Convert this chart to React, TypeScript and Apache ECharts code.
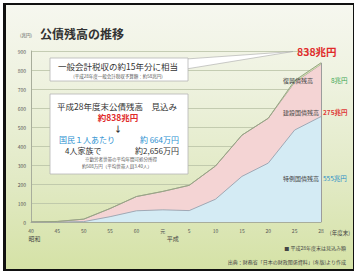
import React, { useEffect, useRef } from "react";
import * as echarts from "echarts";

const xLabels = ["40", "45", "50", "55", "60", "元", "5", "10", "15", "20", "25", "28"];
const tokurei = [0, 0, 2, 28, 59, 64, 60, 120, 240, 310, 484, 555];
const kensetsu = [0.2, 2.8, 13, 43, 75, 97, 133, 175, 217, 236, 251, 275];
const fukko = [0, 0, 0, 0, 0, 0, 0, 0, 0, 0, 9, 8];
const seriesNames = ["特例国債残高", "建設国債残高", "復興債残高"];
const endValues = ["555兆円", "275兆円", "8兆円"];
const totalLabel = "838兆円";

const FONT = '"Noto Sans CJK JP", "Noto Sans", sans-serif';

function txt(text: string, x: number, y: number, size: number, fill: string, align = "left", weight = "normal") {
  return {
    type: "text",
    z: 20,
    style: {
      text,
      x,
      y,
      fill,
      textAlign: align,
      textVerticalAlign: "middle",
      font: `${weight} ${size}px ${FONT}`,
    },
  };
}

export default function App() {
  const ref = useRef<HTMLDivElement>(null);
  useEffect(() => {
    if (!ref.current) return;
    const chart = echarts.init(ref.current, null, { renderer: "svg", width: 354, height: 271 });
    const last = xLabels.length - 1;
    const total = tokurei[last] + kensetsu[last] + fukko[last];
    chart.setOption({
      animation: false,
      textStyle: { fontFamily: FONT },
      grid: { left: 31, right: 33, top: 51, bottom: 49 },
      xAxis: {
        type: "category",
        data: xLabels,
        boundaryGap: false,
        axisLine: { show: true, lineStyle: { color: "#a8ad9c", width: 1 } },
        axisTick: { show: false },
        splitLine: { show: false },
        axisLabel: {
          fontSize: 5,
          color: "#555",
          margin: 4,
          lineHeight: 8,
          interval: 0,
          formatter: (v: string, i: number) => {
            if (i === 0) return v + "\n{s|昭和}";
            if (i === 5) return v + "\n{h|平成}";
            return v;
          },
          rich: {
            s: { fontSize: 6, color: "#444", padding: [0, 0, 0, 7], lineHeight: 8 },
            h: { fontSize: 6, color: "#444", padding: [0, 0, 0, 20], lineHeight: 8 },
          },
        },
      },
      yAxis: {
        type: "value",
        min: 0,
        max: 900,
        interval: 100,
        axisLine: { show: true, lineStyle: { color: "#a8ad9c", width: 1 } },
        axisTick: { show: false },
        splitLine: { show: true, lineStyle: { color: "#b9c2a6", width: 0.8 } },
        axisLabel: { fontSize: 5, color: "#555", margin: 5 },
      },
      series: [
        {
          name: seriesNames[0],
          type: "line",
          stack: "t",
          symbol: "none",
          data: tokurei,
          lineStyle: { color: "#9fa8b6", width: 1 },
          areaStyle: { color: "#d4ebf4", opacity: 1 },
          z: 3,
        },
        {
          name: seriesNames[1],
          type: "line",
          stack: "t",
          symbol: "none",
          data: kensetsu,
          lineStyle: { color: "#aaa49c", width: 1 },
          areaStyle: { color: "#f4d4d4", opacity: 1 },
          z: 3,
        },
        {
          name: seriesNames[2],
          type: "line",
          stack: "t",
          symbol: "none",
          data: fukko,
          lineStyle: { color: "#97a584", width: 1 },
          areaStyle: { color: "#cfe2ad", opacity: 1 },
          z: 4,
          markLine: {
            silent: true,
            symbol: "none",
            label: { show: false },
            lineStyle: { color: "#9c9c9c", width: 1, type: "solid" },
            data: [[{ coord: [last, 0] }, { coord: [last, total] }]],
          },
        },
      ],
      graphic: [
        txt("(兆円)", 20, 35, 4.5, "#555"),
        txt("公債残高の推移", 40, 33, 12, "#333", "left", "bold"),
        {
          type: "polygon",
          z: 18,
          shape: { points: [[186, 59], [293, 51.5], [186, 69]] },
          style: { fill: "#ffffff", stroke: "#a8a8a8", lineWidth: 0.6 },
        },
        {
          type: "rect",
          z: 19,
          shape: { x: 50, y: 58, width: 138, height: 23 },
          style: { fill: "#ffffff", stroke: "#b5b5b5", lineWidth: 0.8 },
        },
        txt("一般会計税収の約15年分に相当", 118, 66, 8.5, "#333", "center"),
        txt("(平成28年度一般会計税収予算額：約58兆円)", 118, 75.5, 4.5, "#555", "center"),
        {
          type: "rect",
          z: 19,
          shape: { x: 50, y: 94, width: 138, height: 80 },
          style: { fill: "#ffffff", stroke: "#b5b5b5", lineWidth: 0.8 },
        },
        txt("平成28年度末公債残高　見込み", 117, 106, 8.5, "#333", "center"),
        txt("約838兆円", 118, 117, 8.5, "#e02a2a", "center", "bold"),
        txt("↓", 118, 128, 8, "#333", "center", "bold"),
        txt("国民１人あたり", 59, 139.5, 8, "#2a8fd0"),
        txt("約 664万円", 179, 139.5, 8, "#2a8fd0", "right"),
        txt("4人家族で", 65, 150.5, 8, "#333"),
        txt("約2,656万円", 179, 150.5, 8, "#333", "right"),
        txt("※勤労者世帯の平均年間可処分所得", 121, 158.5, 4.5, "#555", "center"),
        txt("約508万円（平均世帯人員3.40人）", 117, 165.5, 4.5, "#555", "center"),
        txt(totalLabel, 297, 51, 10.5, "#e02a2a", "left", "bold"),
        txt(seriesNames[2], 313, 80, 6, "#444", "right"),
        txt(endValues[2], 331, 80, 6.5, "#3aa654"),
        txt(seriesNames[1], 319, 112, 6, "#444", "right"),
        txt(endValues[1], 323, 112, 6.5, "#e03a3a", "left", "bold"),
        txt(seriesNames[0], 319, 178, 6, "#444", "right"),
        txt(endValues[0], 323, 178, 6.5, "#2a8fc8"),
        txt("(年度末)", 350, 233, 5.5, "#444", "right"),
        txt("■ 平成28年度末は見込み額", 346, 247, 5, "#444", "right"),
        txt("出典：財務省「日本の財政関係資料」(冬版)より作成", 346, 261, 5, "#444", "right"),
      ],
    });
    return () => chart.dispose();
  }, []);
  return (
    <div style={{ position: "fixed", left: 0, top: 0, width: 354, height: 271, background: "#ffffff" }}>
      <div
        style={{
          position: "absolute",
          left: 3,
          top: 3,
          width: 347,
          height: 264,
          borderLeft: "3px solid #111",
          borderTop: "2px solid #111",
          borderBottom: "2px solid #111",
          borderRight: "1px solid #111",
          background: "linear-gradient(180deg, #f6f7ef 0%, #eef2df 30%, #e2eac6 65%, #d5e2a6 100%)",
        }}
      />
      <div ref={ref} style={{ position: "absolute", left: 0, top: 0, width: 354, height: 271 }} />
    </div>
  );
}
